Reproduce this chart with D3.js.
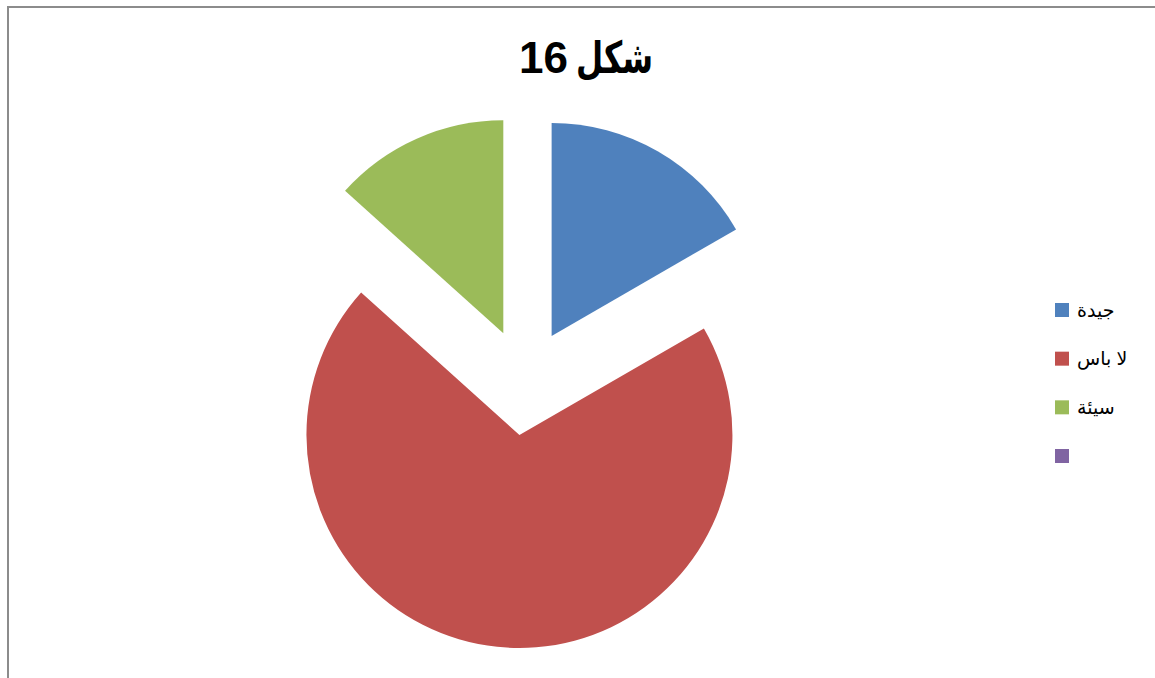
<!DOCTYPE html>
<html>
<head>
<meta charset="utf-8">
<script src="https://cdn.jsdelivr.net/npm/d3@7"></script>
<style>
  body { margin: 0; background: #fff; }
  svg { display: block; }
</style>
</head>
<body>
<div id="chart"></div>
<script>
// data
const categories = ["جيدة", "لا باس", "سيئة", ""];
const values = [5, 21, 4, 0];
const colors = ["#4F81BD", "#C0504D", "#9BBB59", "#8064A2"];
const titleWord = "شكل";
const titleNumber = "16";

const width = 1155, height = 678;
const cx = 525, cy = 382, radius = 213;
const explode = 0.25 * radius;
const font = "'Liberation Sans', 'DejaVu Sans', sans-serif";

const svg = d3.select("#chart")
    .append("svg")
    .attr("width", width)
    .attr("height", height);

// chart frame (runs off the right and bottom edges)
svg.append("rect")
    .attr("x", 8)
    .attr("y", 7)
    .attr("width", width + 20)
    .attr("height", height + 20)
    .attr("fill", "none")
    .attr("stroke", "#8c8c8c")
    .attr("stroke-width", 2);

// title: number on the left, word on the right (RTL reading)
const titleG = svg.append("g")
    .style("font-family", font)
    .style("font-weight", "bold")
    .style("fill", "#000");

titleG.append("text")
    .attr("x", 519)
    .attr("y", 73)
    .style("font-size", "44px")
    .text(titleNumber);

titleG.append("text")
    .attr("x", 576)
    .attr("y", 73)
    .attr("textLength", 77)
    .attr("lengthAdjust", "spacingAndGlyphs")
    .style("font-size", "44px")
    .text(titleWord);

const data = categories.map((c, i) => ({ name: c, value: values[i], color: colors[i] }));

const pie = d3.pie()
    .sort(null)
    .value(d => d.value);

const arc = d3.arc()
    .innerRadius(0)
    .outerRadius(radius);

const g = svg.append("g")
    .attr("transform", `translate(${cx},${cy})`);

g.selectAll("path")
    .data(pie(data).filter(d => d.value > 0))
    .enter()
    .append("path")
    .attr("d", arc)
    .attr("fill", d => d.data.color)
    .attr("transform", d => {
        const mid = (d.startAngle + d.endAngle) / 2;
        return `translate(${Math.sin(mid) * explode},${-Math.cos(mid) * explode})`;
    });

// legend
const legendY = d3.scalePoint()
    .domain(d3.range(categories.length))
    .range([310, 456]);

const legend = svg.append("g").attr("class", "legend");

legend.selectAll("rect")
    .data(data)
    .enter()
    .append("rect")
    .attr("x", 1055)
    .attr("y", (d, i) => legendY(i) - 7)
    .attr("width", 14)
    .attr("height", 14)
    .attr("fill", d => d.color);

legend.selectAll("text")
    .data(data)
    .enter()
    .append("text")
    .attr("x", 1077)
    .attr("y", (d, i) => legendY(i))
    .attr("dy", "0.35em")
    .style("font-family", font)
    .style("font-size", "19px")
    .style("fill", "#000")
    .text(d => d.name);
</script>
</body>
</html>
